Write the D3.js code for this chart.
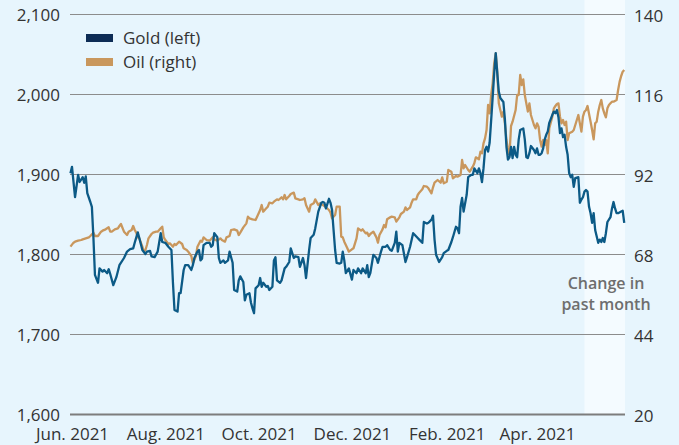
<!DOCTYPE html>
<html>
<head>
<meta charset="utf-8">
<script src="https://cdn.jsdelivr.net/npm/d3@7"></script>
<style>
  html, body { margin: 0; padding: 0; background: #e7f5fd; }
  svg { display: block; font-family: "Open Sans", "Noto Sans", sans-serif; }
</style>
</head>
<body>
<svg id="chart" width="679" height="445"></svg>
<script>
// ---- Data ----
// Day offsets are counted from 1 June 2021.
const startDate = "2021-06-01";
const goldDays = [-1,0,2,4,5,7,8,9,10,12,13,14,15,17,18,20,21,23,24,25,27,29,31,34,36,38,40,41,43,44,46,48,49,51,52,54,56,58,59,61,63,65,66,67,69,70,71,73,74,76,78,79,80,82,83,84,85,86,88,90,91,92,93,95,96,97,99,100,102,103,105,106,108,109,110,112,113,114,116,117,118,119,120,122,123,124,125,127,128,129,131,132,133,134,136,137,139,140,142,143,145,146,148,149,151,152,153,155,156,158,159,161,163,164,165,166,168,169,170,171,172,173,175,176,177,178,179,181,183,184,186,187,189,190,192,193,194,195,197,199,200,202,203,205,206,208,209,211,212,213,214,216,218,219,221,223,224,226,227,229,230,232,233,235,236,237,238,240,242,243,245,246,248,249,251,252,253,254,255,256,258,259,261,262,263,265,266,267,268,269,270,271,272,273,274,275,276,277,278,279,280,282,283,284,285,286,287,288,289,290,291,292,293,295,296,297,298,299,300,302,303,304,305,306,307,308,309,310,311,312,314,315,316,317,318,319,320,321,322,323,324,325,326,327,328,329,331,332,333,334,335,336,337,338,339,340,341,342,344,345,346,347,348,349,350,352,353,354,355,356,357,359,360,361];
const goldValues = [1901,1909,1871,1899,1890,1896,1889,1897,1876,1865,1859,1821,1774,1764,1782,1778,1780,1776,1781,1775,1761,1771,1786,1795,1803,1806,1807,1814,1827,1820,1805,1800,1803,1804,1797,1796,1803,1826,1815,1814,1809,1805,1764,1730,1728,1751,1751,1780,1786,1786,1780,1786,1795,1803,1805,1792,1794,1811,1814,1814,1809,1811,1826,1821,1795,1789,1792,1789,1792,1803,1789,1755,1753,1767,1772,1765,1742,1749,1751,1739,1732,1726,1757,1761,1770,1759,1764,1759,1760,1755,1759,1792,1796,1767,1764,1767,1782,1784,1790,1807,1795,1797,1796,1784,1795,1786,1770,1805,1820,1824,1832,1853,1864,1865,1864,1857,1869,1864,1855,1830,1805,1789,1788,1789,1803,1792,1776,1782,1768,1780,1776,1782,1776,1782,1776,1786,1771,1776,1799,1795,1789,1803,1809,1809,1811,1805,1804,1814,1828,1803,1814,1811,1790,1796,1809,1826,1824,1820,1818,1814,1840,1838,1839,1843,1848,1818,1799,1790,1796,1801,1804,1805,1815,1821,1834,1832,1826,1859,1870,1853,1874,1896,1899,1899,1907,1901,1907,1901,1890,1907,1930,1934,1928,1939,1967,1996,2026,2051,2026,2003,1995,1990,1968,1934,1918,1921,1934,1920,1934,1924,1921,1943,1955,1957,1943,1921,1920,1926,1935,1930,1926,1932,1924,1924,1926,1932,1943,1949,1953,1964,1974,1978,1976,1980,1971,1951,1957,1946,1949,1934,1924,1901,1896,1899,1884,1895,1896,1864,1868,1871,1878,1880,1878,1859,1851,1839,1851,1830,1814,1818,1815,1820,1815,1826,1840,1846,1857,1865,1857,1851,1851,1853,1854,1839];
const oilDays = [-1,1,2,4,6,7,9,11,12,14,15,17,19,20,22,24,25,26,28,30,31,32,34,36,37,39,40,41,42,43,44,46,47,48,49,50,52,53,55,56,58,59,60,61,63,64,66,67,68,70,72,73,75,76,78,79,81,82,84,85,86,88,90,92,93,95,97,98,100,101,103,104,106,108,109,110,112,114,115,116,118,120,121,123,124,125,127,128,129,131,132,134,135,137,138,139,140,142,143,145,146,148,149,151,152,153,155,156,158,159,161,162,164,165,166,168,169,170,172,173,175,176,177,178,180,181,183,184,186,187,189,190,192,193,194,195,197,199,200,201,203,204,205,206,208,209,211,212,214,215,217,218,219,221,222,223,225,226,227,229,230,232,233,235,236,237,239,241,242,243,245,246,248,249,251,252,254,255,256,257,259,260,262,263,264,266,267,268,269,270,271,272,273,274,275,276,277,278,279,280,281,282,283,284,285,286,287,288,290,291,292,293,294,295,296,297,298,299,300,302,303,304,305,306,307,308,309,310,311,312,314,315,316,317,318,319,320,321,322,323,324,325,327,328,329,330,331,332,333,334,335,336,337,339,340,341,342,343,344,345,346,347,348,349,350,351,352,353,354,356,357,358,359,360,361];
const oilValues = [70.2,71.4,71.7,72.0,72.2,72.4,72.7,73.0,73.4,74.4,73.4,73.4,74.7,75.0,75.4,76.0,74.7,74.7,75.4,75.7,76.4,77.0,74.7,73.7,74.7,75.2,76.4,75.2,74.4,73.0,72.7,70.2,68.7,69.2,70.7,72.7,74.0,74.4,74.7,74.7,75.7,76.2,73.0,72.2,71.0,71.2,70.2,71.0,70.7,71.7,71.0,69.7,69.2,68.7,67.4,65.2,67.4,70.2,72.0,71.7,73.0,72.2,72.0,73.0,72.4,72.0,72.7,72.2,71.7,73.0,73.4,75.2,75.4,75.0,73.7,74.4,76.0,77.2,79.2,78.7,78.4,78.2,79.2,81.2,82.7,80.7,81.7,82.2,83.4,83.2,83.7,84.4,84.2,85.0,84.4,85.7,84.4,85.4,86.0,86.4,84.7,84.4,84.2,84.4,84.7,82.7,80.7,82.7,83.2,84.4,82.7,83.2,82.7,82.4,82.0,81.2,80.4,78.7,79.7,82.2,82.2,73.2,73.0,71.7,69.7,68.7,69.4,69.7,72.7,75.7,75.0,75.4,74.2,74.4,73.4,74.0,74.7,73.0,71.4,73.7,75.4,76.7,76.0,78.4,79.0,79.2,79.0,77.7,79.0,80.0,80.7,82.0,81.2,82.0,83.4,84.4,84.4,85.7,86.4,87.4,88.4,88.2,87.7,86.2,88.0,89.4,90.2,89.4,91.0,89.2,89.7,93.2,92.7,90.7,91.4,91.2,91.7,96.2,93.7,94.7,93.2,92.7,94.2,95.2,97.0,96.4,98.7,98.2,101.2,102.7,105.2,112.7,110.2,115.7,119.2,125.2,128.2,122.7,113.2,111.2,109.2,110.7,107.2,102.2,99.2,97.7,106.4,107.7,111.2,115.7,115.7,121.7,118.7,120.4,115.7,113.2,110.7,113.2,109.7,106.7,105.7,107.2,106.2,102.2,100.2,102.2,100.7,102.2,98.2,105.7,109.2,111.7,112.4,113.0,113.2,109.2,107.2,108.2,106.7,107.7,102.2,104.2,104.7,105.2,106.7,108.2,109.7,107.2,104.7,109.2,110.7,111.2,112.4,107.7,105.2,102.4,107.2,107.7,110.7,112.7,114.2,111.7,110.2,109.0,111.7,112.7,113.2,113.7,113.7,114.2,117.2,119.7,121.4,122.7,123.2];

const goldTicks = [1600, 1700, 1800, 1900, 2000, 2100];
const oilTicks = [20, 44, 68, 92, 116, 140];
const monthTickDays = [0, 61, 122, 183, 245, 304];
const monthTickLabels = ["Jun. 2021", "Aug. 2021", "Oct. 2021", "Dec. 2021", "Feb. 2021", "Apr. 2021"];
const shadeStartDay = 335;
const seriesNames = ["Gold (left)", "Oil (right)"];
const shadeNote = ["Change in", "past month"];

// ---- Layout ----
const W = 679, H = 445;
const m = { left: 70, right: 54, top: 14, bottom: 31 };
const x0 = m.left, x1 = W - m.right, y0 = H - m.bottom, y1 = m.top;
const DAY = 864e5;
const base = new Date(startDate + "T00:00:00Z").getTime();
const toDate = d => new Date(base + d * DAY);

const svg = d3.select("#chart");
svg.append("rect").attr("width", W).attr("height", H).attr("fill", "#e7f5fd");

const x = d3.scaleUtc().domain([toDate(-1.3), toDate(361.5)]).range([x0, x1]);
const yGold = d3.scaleLinear().domain([1600, 2100]).range([y0, y1]);
const yOil = d3.scaleLinear().domain([20, 140]).range([y0, y1]);

// shaded "past month" band
svg.append("rect")
  .attr("x", x(toDate(shadeStartDay)))
  .attr("y", 0)
  .attr("width", x1 - x(toDate(shadeStartDay)))
  .attr("height", y0)
  .attr("fill", "#f4fbff");

// gridlines
svg.append("g").selectAll("line").data(goldTicks).join("line")
  .attr("x1", x0).attr("x2", x1)
  .attr("y1", d => Math.round(yGold(d)) + 0.5).attr("y2", d => Math.round(yGold(d)) + 0.5)
  .attr("stroke", d => d === 1600 ? "#7d7d7d" : "#8c8c8c")
  .attr("stroke-width", d => d === 1600 ? 2 : 1.2);

// note in shaded band (two separate lines)
svg.append("g").selectAll("text").data(shadeNote).join("text")
  .attr("x", 606).attr("y", (d, i) => 289 + i * 21)
  .attr("text-anchor", "middle")
  .attr("font-size", 16).attr("font-weight", 600)
  .attr("fill", "#6e6e6e")
  .text(d => d);

// axes
const tickFont = g => g.selectAll("text").attr("font-size", 17).attr("fill", "#333")
  .attr("font-family", "'Open Sans', 'Noto Sans', sans-serif");

svg.append("g").attr("transform", `translate(${x0},0)`)
  .call(d3.axisLeft(yGold).tickValues(goldTicks).tickSize(0).tickPadding(10).tickFormat(d3.format(",")))
  .call(g => g.select(".domain").remove())
  .call(tickFont)
  .call(g => g.selectAll("text").attr("dy", "0.36em"));

svg.append("g").attr("transform", `translate(${x1},0)`)
  .call(d3.axisRight(yOil).tickValues(oilTicks).tickSize(0).tickPadding(9))
  .call(g => g.select(".domain").remove())
  .call(tickFont)
  .call(g => g.selectAll("text").attr("dy", "0.45em"));

svg.append("g").attr("transform", `translate(0,${y0})`)
  .call(d3.axisBottom(x).tickValues(monthTickDays.map(toDate)).tickSize(0).tickPadding(14)
    .tickFormat((d, i) => monthTickLabels[i]))
  .call(g => g.select(".domain").remove())
  .call(tickFont);

// lines
const oilLine = d3.line().x((d, i) => x(toDate(oilDays[i]))).y(d => yOil(d)).curve(d3.curveLinear);
const goldLine = d3.line().x((d, i) => x(toDate(goldDays[i]))).y(d => yGold(d)).curve(d3.curveLinear);

svg.append("path").datum(oilValues).attr("d", oilLine)
  .attr("fill", "none").attr("stroke", "#c9975d").attr("stroke-width", 2.3).attr("stroke-linejoin", "round");
svg.append("path").datum(goldValues).attr("d", goldLine)
  .attr("fill", "none").attr("stroke", "#0c5a86").attr("stroke-width", 2.3).attr("stroke-linejoin", "round");

// legend
const legendColors = ["#0d2c55", "#c9975d"];
const lg = svg.append("g");
seriesNames.forEach((name, i) => {
  const cy = 38 + i * 24;
  lg.append("rect").attr("x", 86).attr("y", cy - 4).attr("width", 27).attr("height", 8).attr("fill", legendColors[i]);
  lg.append("text").attr("x", 123).attr("y", cy).attr("dy", "0.35em")
    .attr("font-size", 17).attr("fill", "#333").text(name);
});
</script>
</body>
</html>
